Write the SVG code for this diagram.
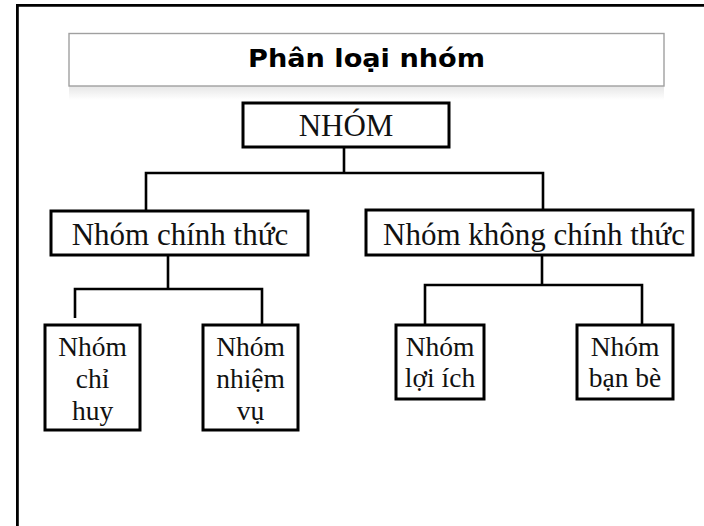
<svg xmlns="http://www.w3.org/2000/svg" width="704" height="526" viewBox="0 0 704 526">
<defs>
<linearGradient id="shadow" x1="0" y1="0" x2="0" y2="1">
<stop offset="0" stop-color="#e6e6e6"/>
<stop offset="1" stop-color="#ffffff"/>
</linearGradient>
</defs>
<style>
.box{fill:#fff;stroke:#000;stroke-width:3}
.conn{fill:none;stroke:#000;stroke-width:2.6}
.big{font-family:"Liberation Serif","Times New Roman",serif;font-size:31px;fill:#111;text-anchor:middle}
.small{font-family:"Liberation Serif","Times New Roman",serif;font-size:27.5px;fill:#111;text-anchor:middle}
.title{font-family:"DejaVu Sans",Verdana,sans-serif;font-weight:bold;font-size:24px;fill:#000;text-anchor:middle}
</style>
<rect width="704" height="526" fill="#fff"/>
<path d="M17.4,526 V5.3 H704" fill="none" stroke="#000" stroke-width="2.8"/>
<g id="title">
<rect x="69" y="86" width="595" height="14" fill="url(#shadow)"/>
<rect x="69" y="33.5" width="595" height="52.5" fill="#fff" stroke="#a0a0a0" stroke-width="1.4"/>
<text class="title" x="366.5" y="67" textLength="237" lengthAdjust="spacingAndGlyphs">Phân loại nhóm</text>
</g>
<g id="connectors">
<path class="conn" d="M344,147 V173 M146,210 V173 H543 V210"/>
<path class="conn" d="M168,255 V289 M75,318 V289 H262 V325"/>
<path class="conn" d="M542,255 V285 M425,325 V285 H642 V325"/>
</g>
<g id="nhom">
<rect class="box" x="243" y="103" width="206" height="44"/>
<text class="big" x="346" y="136">NHÓM</text>
</g>
<g id="chinh-thuc">
<rect class="box" x="51" y="211" width="257" height="44"/>
<text class="big" x="180" y="245">Nhóm chính thức</text>
</g>
<g id="khong-chinh-thuc">
<rect class="box" x="366" y="210" width="327" height="45"/>
<text class="big" x="534" y="245">Nhóm không chính thức</text>
</g>
<g id="chi-huy">
<rect class="box" x="45" y="325" width="95" height="105"/>
<text class="small" x="92.5" y="356">Nhóm</text>
<text class="small" x="92.5" y="388">chỉ</text>
<text class="small" x="92.5" y="420">huy</text>
</g>
<g id="nhiem-vu">
<rect class="box" x="203" y="325" width="95" height="105"/>
<text class="small" x="250.5" y="356">Nhóm</text>
<text class="small" x="250.5" y="388">nhiệm</text>
<text class="small" x="250.5" y="420">vụ</text>
</g>
<g id="loi-ich">
<rect class="box" x="396" y="325" width="88" height="74"/>
<text class="small" x="440" y="356">Nhóm</text>
<text class="small" x="440" y="387">lợi ích</text>
</g>
<g id="ban-be">
<rect class="box" x="577" y="325" width="96" height="74"/>
<text class="small" x="625" y="356">Nhóm</text>
<text class="small" x="625" y="387">bạn bè</text>
</g>
</svg>
